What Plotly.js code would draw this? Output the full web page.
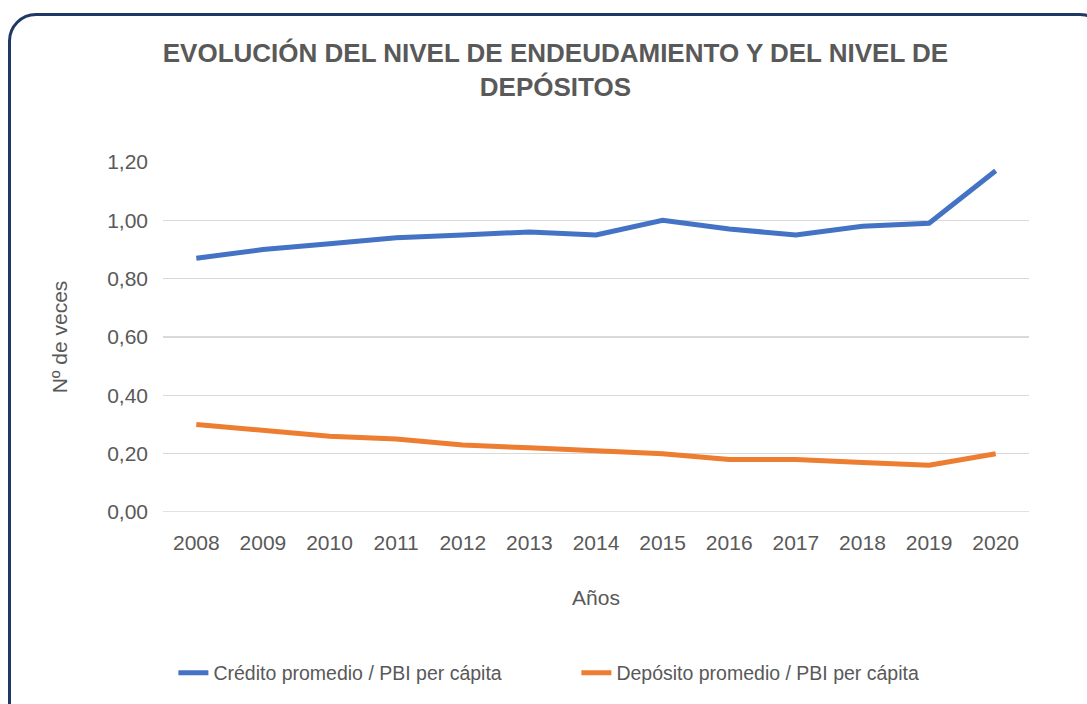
<!DOCTYPE html>
<html><head><meta charset="utf-8">
<script src="https://cdn.plot.ly/plotly-3.0.1.min.js"></script>
<style>
html,body{margin:0;padding:0;background:#fff;}
#frame{position:absolute;left:8px;top:13px;width:1100px;height:720px;border:3px solid #203864;border-radius:28px;box-sizing:border-box;}
#chart{position:absolute;left:0;top:0;width:1087px;height:704px;}
</style></head>
<body>
<div id="frame"></div>
<div id="chart"></div>
<script>
const years = ['2008','2009','2010','2011','2012','2013','2014','2015','2016','2017','2018','2019','2020'];
const credito = [0.87,0.90,0.92,0.94,0.95,0.96,0.95,1.00,0.97,0.95,0.98,0.99,1.17];
const deposito = [0.30,0.28,0.26,0.25,0.23,0.22,0.21,0.20,0.18,0.18,0.17,0.16,0.20];
const yTicks = [0,0.2,0.4,0.6,0.8,1.0,1.2];
const yTickText = yTicks.map(v => v.toFixed(2).replace('.', ','));

const F = '"Liberation Sans Narrow", "Arial Narrow", "Liberation Sans", Arial, sans-serif';
const gray = '#595959';

const traces = [
 {x: years, y: credito, type:'scatter', mode:'lines', name:'Crédito promedio / PBI per cápita',
  line:{color:'#4472C4', width:5}},
 {x: years, y: deposito, type:'scatter', mode:'lines', name:'Depósito promedio / PBI per cápita',
  line:{color:'#ED7D31', width:5}}
];
const layout = {
 width:1087, height:704,
 paper_bgcolor:'rgba(0,0,0,0)', plot_bgcolor:'rgba(0,0,0,0)',
 margin:{l:163, r:58, t:162, b:192},
 title:{text:'<b>EVOLUCIÓN DEL NIVEL DE ENDEUDAMIENTO Y DEL NIVEL DE<br>DEPÓSITOS</b>',
   font:{family:F, size:26, color:gray}, x:0.511, xanchor:'center', y:0.912, yanchor:'top'},
 xaxis:{type:'category', range:[-0.5,12.5], showgrid:false, zeroline:false, showline:false,
   ticks:'', tickfont:{family:F, size:21, color:gray}, ticklabelstandoff:16,
   title:{text:'Años', font:{family:F, size:21, color:gray}, standoff:37}},
 yaxis:{range:[0,1.2], tickvals:yTicks, ticktext:yTickText, showgrid:true, gridcolor:'#d9d9d9', gridwidth:1.5,
   zeroline:false, showline:false, ticks:'', tickfont:{family:F, size:21, color:gray}, ticklabelstandoff:14,
   title:{text:'Nº de veces', font:{family:F, size:21, color:gray}, standoff:33}},
 showlegend:true,
 legend:{orientation:'h', x:0.012, xanchor:'left', y:-0.46, yanchor:'middle', entrywidth:358, entrywidthmode:'pixels',
   font:{family:F, size:19.5, color:gray}, traceorder:'normal'},
 shapes:[{type:'line', xref:'paper', yref:'y', x0:0, x1:1, y0:0, y1:0, line:{color:'#d9d9d9', width:1.5}}]
};
Plotly.newPlot('chart', traces, layout, {displayModeBar:false, staticPlot:true});
</script>
</body></html>
